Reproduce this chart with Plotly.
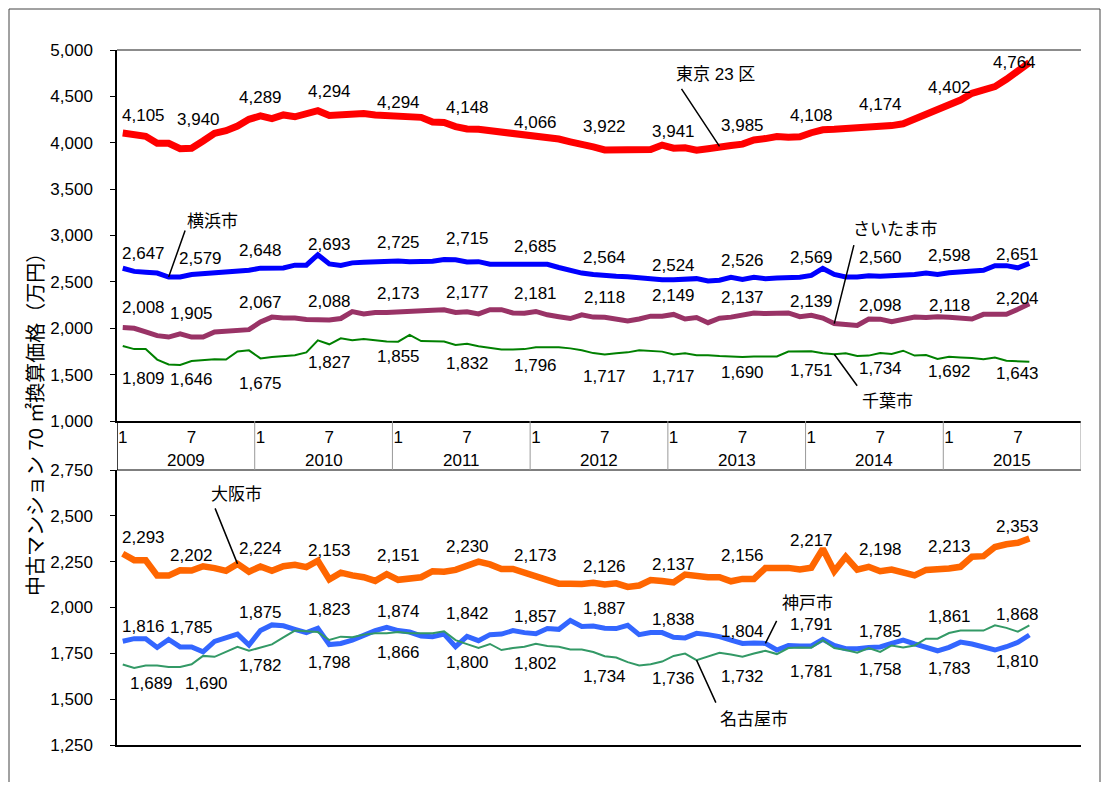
import plotly.graph_objects as go

# ---------------- data ----------------
years = [2009, 2010, 2011, 2012, 2013, 2014, 2015]
tick_months = [1, 7]

tokyo = [4105, 4080, 4070, 3994, 3994, 3936, 3940, 4019, 4102, 4130, 4180, 4253,
         4289, 4260, 4300, 4280, 4310, 4346, 4294, 4305, 4310, 4315, 4300, 4295,
         4294, 4290, 4274, 4224, 4218, 4174, 4148, 4145, 4130, 4120, 4090, 4090,
         4066, 4060, 4040, 4010, 3990, 3955, 3922, 3925, 3940, 3935, 3928, 3975,
         3941, 3945, 3920, 3935, 3960, 3970, 3985, 4030, 4045, 4068, 4060, 4065,
         4108, 4140, 4145, 4150, 4170, 4165, 4174, 4185, 4205, 4255, 4310, 4355,
         4402, 4460, 4533, 4560, 4605, 4684, 4764, 4864]
yokohama = [2647, 2613, 2605, 2595, 2552, 2552, 2579, 2590, 2590, 2610, 2613, 2625,
            2648, 2648, 2650, 2680, 2680, 2793, 2693, 2678, 2705, 2712, 2718, 2722,
            2725, 2716, 2716, 2722, 2740, 2738, 2715, 2718, 2690, 2690, 2685, 2697,
            2685, 2690, 2655, 2625, 2595, 2580, 2564, 2560, 2555, 2545, 2530, 2522,
            2524, 2535, 2535, 2510, 2518, 2550, 2526, 2550, 2535, 2542, 2542, 2550,
            2569, 2645, 2580, 2553, 2553, 2565, 2560, 2565, 2565, 2580, 2595, 2580,
            2598, 2610, 2625, 2625, 2675, 2675, 2651, 2700]
saitama = [2008, 2000, 1960, 1920, 1905, 1940, 1905, 1905, 1960, 1970, 1985, 1985,
           2067, 2120, 2110, 2110, 2095, 2090, 2088, 2105, 2180, 2155, 2170, 2170,
           2173, 2180, 2185, 2195, 2200, 2170, 2177, 2155, 2200, 2200, 2165, 2162,
           2181, 2145, 2125, 2105, 2145, 2120, 2118, 2095, 2078, 2100, 2130, 2130,
           2149, 2100, 2115, 2060, 2108, 2120, 2137, 2165, 2158, 2158, 2165, 2125,
           2139, 2110, 2050, 2040, 2030, 2100, 2098, 2070, 2095, 2120, 2115, 2125,
           2118, 2105, 2100, 2150, 2150, 2150, 2204, 2265]
chiba = [1809, 1775, 1775, 1662, 1610, 1605, 1646, 1655, 1665, 1662, 1750, 1762,
         1675, 1690, 1703, 1710, 1740, 1870, 1827, 1892, 1870, 1885, 1870, 1857,
         1855, 1928, 1862, 1857, 1857, 1820, 1832, 1805, 1790, 1770, 1770, 1775,
         1796, 1796, 1796, 1783, 1762, 1732, 1717, 1730, 1740, 1762, 1755, 1748,
         1717, 1730, 1710, 1710, 1700, 1695, 1690, 1695, 1695, 1695, 1748, 1748,
         1751, 1730, 1720, 1730, 1700, 1705, 1734, 1722, 1758, 1705, 1712, 1670,
         1692, 1685, 1680, 1665, 1685, 1650, 1643, 1638]
osaka = [2293, 2258, 2258, 2174, 2174, 2203, 2202, 2225, 2215, 2200, 2238, 2195,
         2224, 2200, 2225, 2233, 2220, 2255, 2153, 2190, 2175, 2165, 2145, 2182,
         2151, 2158, 2165, 2198, 2195, 2205, 2230, 2250, 2235, 2210, 2210, 2190,
         2173, 2150, 2130, 2130, 2128, 2135, 2126, 2132, 2112, 2120, 2150, 2145,
         2137, 2180, 2170, 2165, 2165, 2143, 2156, 2156, 2215, 2216, 2216, 2208,
         2217, 2320, 2198, 2277, 2207, 2222, 2198, 2207, 2192, 2175, 2205, 2207,
         2213, 2222, 2277, 2280, 2330, 2345, 2353, 2376]
kobe = [1816, 1830, 1830, 1782, 1826, 1785, 1785, 1758, 1815, 1832, 1855, 1795,
        1875, 1905, 1900, 1881, 1863, 1887, 1798, 1804, 1822, 1848, 1874, 1892,
        1874, 1866, 1845, 1841, 1855, 1786, 1842, 1819, 1852, 1855, 1874, 1863,
        1857, 1885, 1881, 1929, 1896, 1899, 1887, 1885, 1903, 1852, 1863, 1863,
        1838, 1834, 1859, 1852, 1841, 1822, 1804, 1807, 1804, 1768, 1793, 1790,
        1791, 1826, 1793, 1775, 1775, 1782, 1785, 1804, 1822, 1801, 1782, 1764,
        1783, 1811, 1801, 1786, 1768, 1786, 1810, 1850]
nagoya = [1689, 1670, 1683, 1683, 1676, 1676, 1690, 1736, 1731, 1757, 1786, 1764,
          1782, 1799, 1837, 1874, 1870, 1866, 1823, 1841, 1838, 1852, 1859, 1859,
          1866, 1859, 1859, 1859, 1870, 1822, 1800, 1779, 1801, 1768, 1779, 1786,
          1802, 1790, 1786, 1771, 1771, 1757, 1734, 1727, 1702, 1684, 1691, 1705,
          1736, 1749, 1713, 1731, 1753, 1744, 1732, 1749, 1764, 1746, 1779, 1782,
          1781, 1822, 1779, 1768, 1753, 1779, 1758, 1793, 1782, 1793, 1830, 1830,
          1861, 1874, 1874, 1874, 1903, 1889, 1868, 1903]

# ---------------- layout helpers ----------------
FONT = "Liberation Sans, Arial, Noto Sans CJK JP, sans-serif"
OFF = 8                      # page body margin of the html page
W, H = 1095, 774
ML, MT = 117 - OFF, 50 - OFF
PW, PH = 964, 695
MR, MB = W - ML - PW, H - MT - PH
TOP_DOM = [(745 - 421) / PH, 1.0]
BOT_DOM = [0.0, (745 - 470) / PH]


def px_x(page_x):
    return (page_x - (OFF + ML)) / PW


def px_y(page_y):
    return (OFF + MT + PH - page_y) / PH


n = len(tokyo)
xs = list(range(n))
n_months = 12 * len(years)
tickvals = [12 * k + m - 1 for k in range(len(years)) for m in tick_months]
ticktext = [str(m) for k in range(len(years)) for m in tick_months]
label_idx = list(range(0, n, 6))

# label placement (style): signed pixel offset per label, + above / - below
T, B = 1, -1
label_off = {
    "東京23区": [18, 29, 18, 24, 13, 22, 14, 23, 17, 19, 17, 22, 18, 9],
    "横浜市": [15, 16, 18, 19, 19, 23, 18, 18, 14, 19, 18, 19, 17, 13],
    "さいたま市": [20, 24, 20, 19, 19, 19, 18, 20, 19, 18, 14, 14, 12, 11],
    "千葉市": [-33, -18, -25, -18, -15, -20, -18, -22, -22, -15, -19, -16, -15, -12],
    "大阪市": [16, 15, 18, 29, 24, 19, 20, 18, 18, 23, 27, 22, 22, 16],
    "神戸市": [15, 19, 18, -18, 19, 23, 17, 20, 18, 12, 21, 15, -21, -19],
    "名古屋市": [-19, -19, -18, 30, -20, -18, -20, -20, -23, -20, -24, -18, 16, 17],
}
label_dx = {("東京23区", 6): 7, ("横浜市", 6): 9, ("名古屋市", 0): 8,
            ("名古屋市", 6): 15, ("東京23区", 78): -3}

fig = go.Figure()

series = [
    # name, data, color, width, panel
    ("東京23区", tokyo, "#FF0000", 7, 1),
    ("横浜市", yokohama, "#0000FF", 5, 1),
    ("さいたま市", saitama, "#993366", 5, 1),
    ("千葉市", chiba, "#008000", 2, 1),
    ("大阪市", osaka, "#FF6600", 6.5, 2),
    ("神戸市", kobe, "#3366FF", 5, 2),
    ("名古屋市", nagoya, "#339966", 2, 2),
]

ann = []
for name, data, color, width, panel in series:
    ya = "y" if panel == 1 else "y2"
    xa = "x" if panel == 1 else "x2"
    fig.add_trace(go.Scatter(x=xs, y=data, mode="lines", name=name,
                             line=dict(color=color, width=width),
                             xaxis=xa, yaxis=ya, hoverinfo="skip"))
    for j, i in enumerate(label_idx):
        dx = (21 if i == 0 else 0) + label_dx.get((name, i), 0)
        ann.append(dict(x=i, y=data[i], xref=xa, yref=ya, text=f"{data[i]:,}",
                        showarrow=False, xanchor="center", yanchor="middle",
                        xshift=dx, yshift=label_off[name][j],
                        font=dict(size=17, color="black")))

axis_common = dict(showgrid=False, zeroline=False, showline=True,
                   linecolor="black", linewidth=1.5)
fig.update_layout(
    width=W, height=H, margin=dict(l=ML, r=MR, t=MT, b=MB),
    paper_bgcolor="white", plot_bgcolor="white", showlegend=False,
    font=dict(family=FONT, size=17, color="black"),
    xaxis=dict(domain=[0, 1], anchor="y", range=[-0.5, n_months - 0.5],
               tickmode="array", tickvals=tickvals, ticktext=ticktext,
               ticks="", tickfont=dict(size=17), **axis_common),
    xaxis2=dict(domain=[0, 1], anchor="y2", matches="x",
                showticklabels=False, ticks="", **axis_common),
    yaxis=dict(domain=TOP_DOM, anchor="x", range=[1000, 5000], dtick=500,
               tickformat=",d", ticks="outside", ticklen=5, tickcolor="black",
               tickfont=dict(size=17), ticklabelstandoff=14, **axis_common),
    yaxis2=dict(domain=BOT_DOM, anchor="x2", range=[1250, 2750], dtick=250,
                tickformat=",d", ticks="outside", ticklen=5, tickcolor="black",
                tickfont=dict(size=17), ticklabelstandoff=14, **axis_common),
)

shapes = []
# top border of upper panel
shapes.append(dict(type="line", xref="x domain", yref="y domain", x0=0, x1=1,
                   y0=1, y1=1, line=dict(color="#666666", width=1.5)))
# bottom line of category band (= top of lower panel)
shapes.append(dict(type="line", xref="x2 domain", yref="y2 domain", x0=0, x1=1,
                   y0=1, y1=1, line=dict(color="#555555", width=1.5)))
# year separators in the category band
for k in range(len(years) + 1):
    shapes.append(dict(type="line", xref="x", yref="paper",
                       x0=12 * k - 0.5, x1=12 * k - 0.5,
                       y0=BOT_DOM[1], y1=TOP_DOM[0],
                       line=dict(color="black" if k == 0 else "#999999",
                                 width=1.5 if k == 0 else 1)))
# outer frame (left, top, right)
fx0, fx1 = px_x(9), px_x(1100)
fy0, fy1 = px_y(OFF + H), px_y(9)
for x0, y0, x1, y1 in [(fx0, fy0, fx0, fy1), (fx0, fy1, fx1, fy1), (fx1, fy1, fx1, fy0)]:
    shapes.append(dict(type="line", xref="paper", yref="paper", x0=x0, y0=y0,
                       x1=x1, y1=y1, line=dict(color="#444444", width=1)))
fig.update_layout(shapes=shapes)

# year labels
for k, yr in enumerate(years):
    ann.append(dict(x=12 * k + 5.5, y=px_y(460), xref="x", yref="paper",
                    text=str(yr), showarrow=False, font=dict(size=17),
                    xanchor="center", yanchor="middle"))
# y-axis title
ann.append(dict(x=px_x(35), y=px_y(420), xref="paper", yref="paper",
                text="中古マンション 70 ㎡換算価格（万円）",
                textangle=-90, showarrow=False, font=dict(size=20),
                xanchor="center", yanchor="middle"))

# series name call-outs: (text, data, index, axis, leader ax, ay, text shift x, y)
callouts = [
    ("東京 23 区", tokyo, 52, "y", -39, -59, -4, 72),
    ("横浜市", yokohama, 4, "y", 17, -48, 44, 56),
    ("さいたま市", saitama, 62, "y", 20, -80, 61, 94),
    ("千葉市", chiba, 62, "y", 24, 33, 53, -47),
    ("大阪市", osaka, 10, "y2", -23, -57, -1, 69),
    ("神戸市", kobe, 56, "y2", 12, -24, 42, 40),
    ("名古屋市", nagoya, 50, "y2", 20, 44, 57, -59),
]
for text, data, i, ya, ax, ay, sx, sy in callouts:
    xa = "x" if ya == "y" else "x2"
    ann.append(dict(x=i, y=data[i], xref=xa, yref=ya, text="", showarrow=True,
                    arrowhead=0, arrowwidth=1.5, arrowcolor="black",
                    ax=ax, ay=ay, axref="pixel", ayref="pixel"))
    ann.append(dict(x=i, y=data[i], xref=xa, yref=ya, text=text, showarrow=False,
                    xshift=sx, yshift=sy, font=dict(size=17),
                    xanchor="center", yanchor="middle"))
fig.update_layout(annotations=ann)

fig.write_html("out.html")
